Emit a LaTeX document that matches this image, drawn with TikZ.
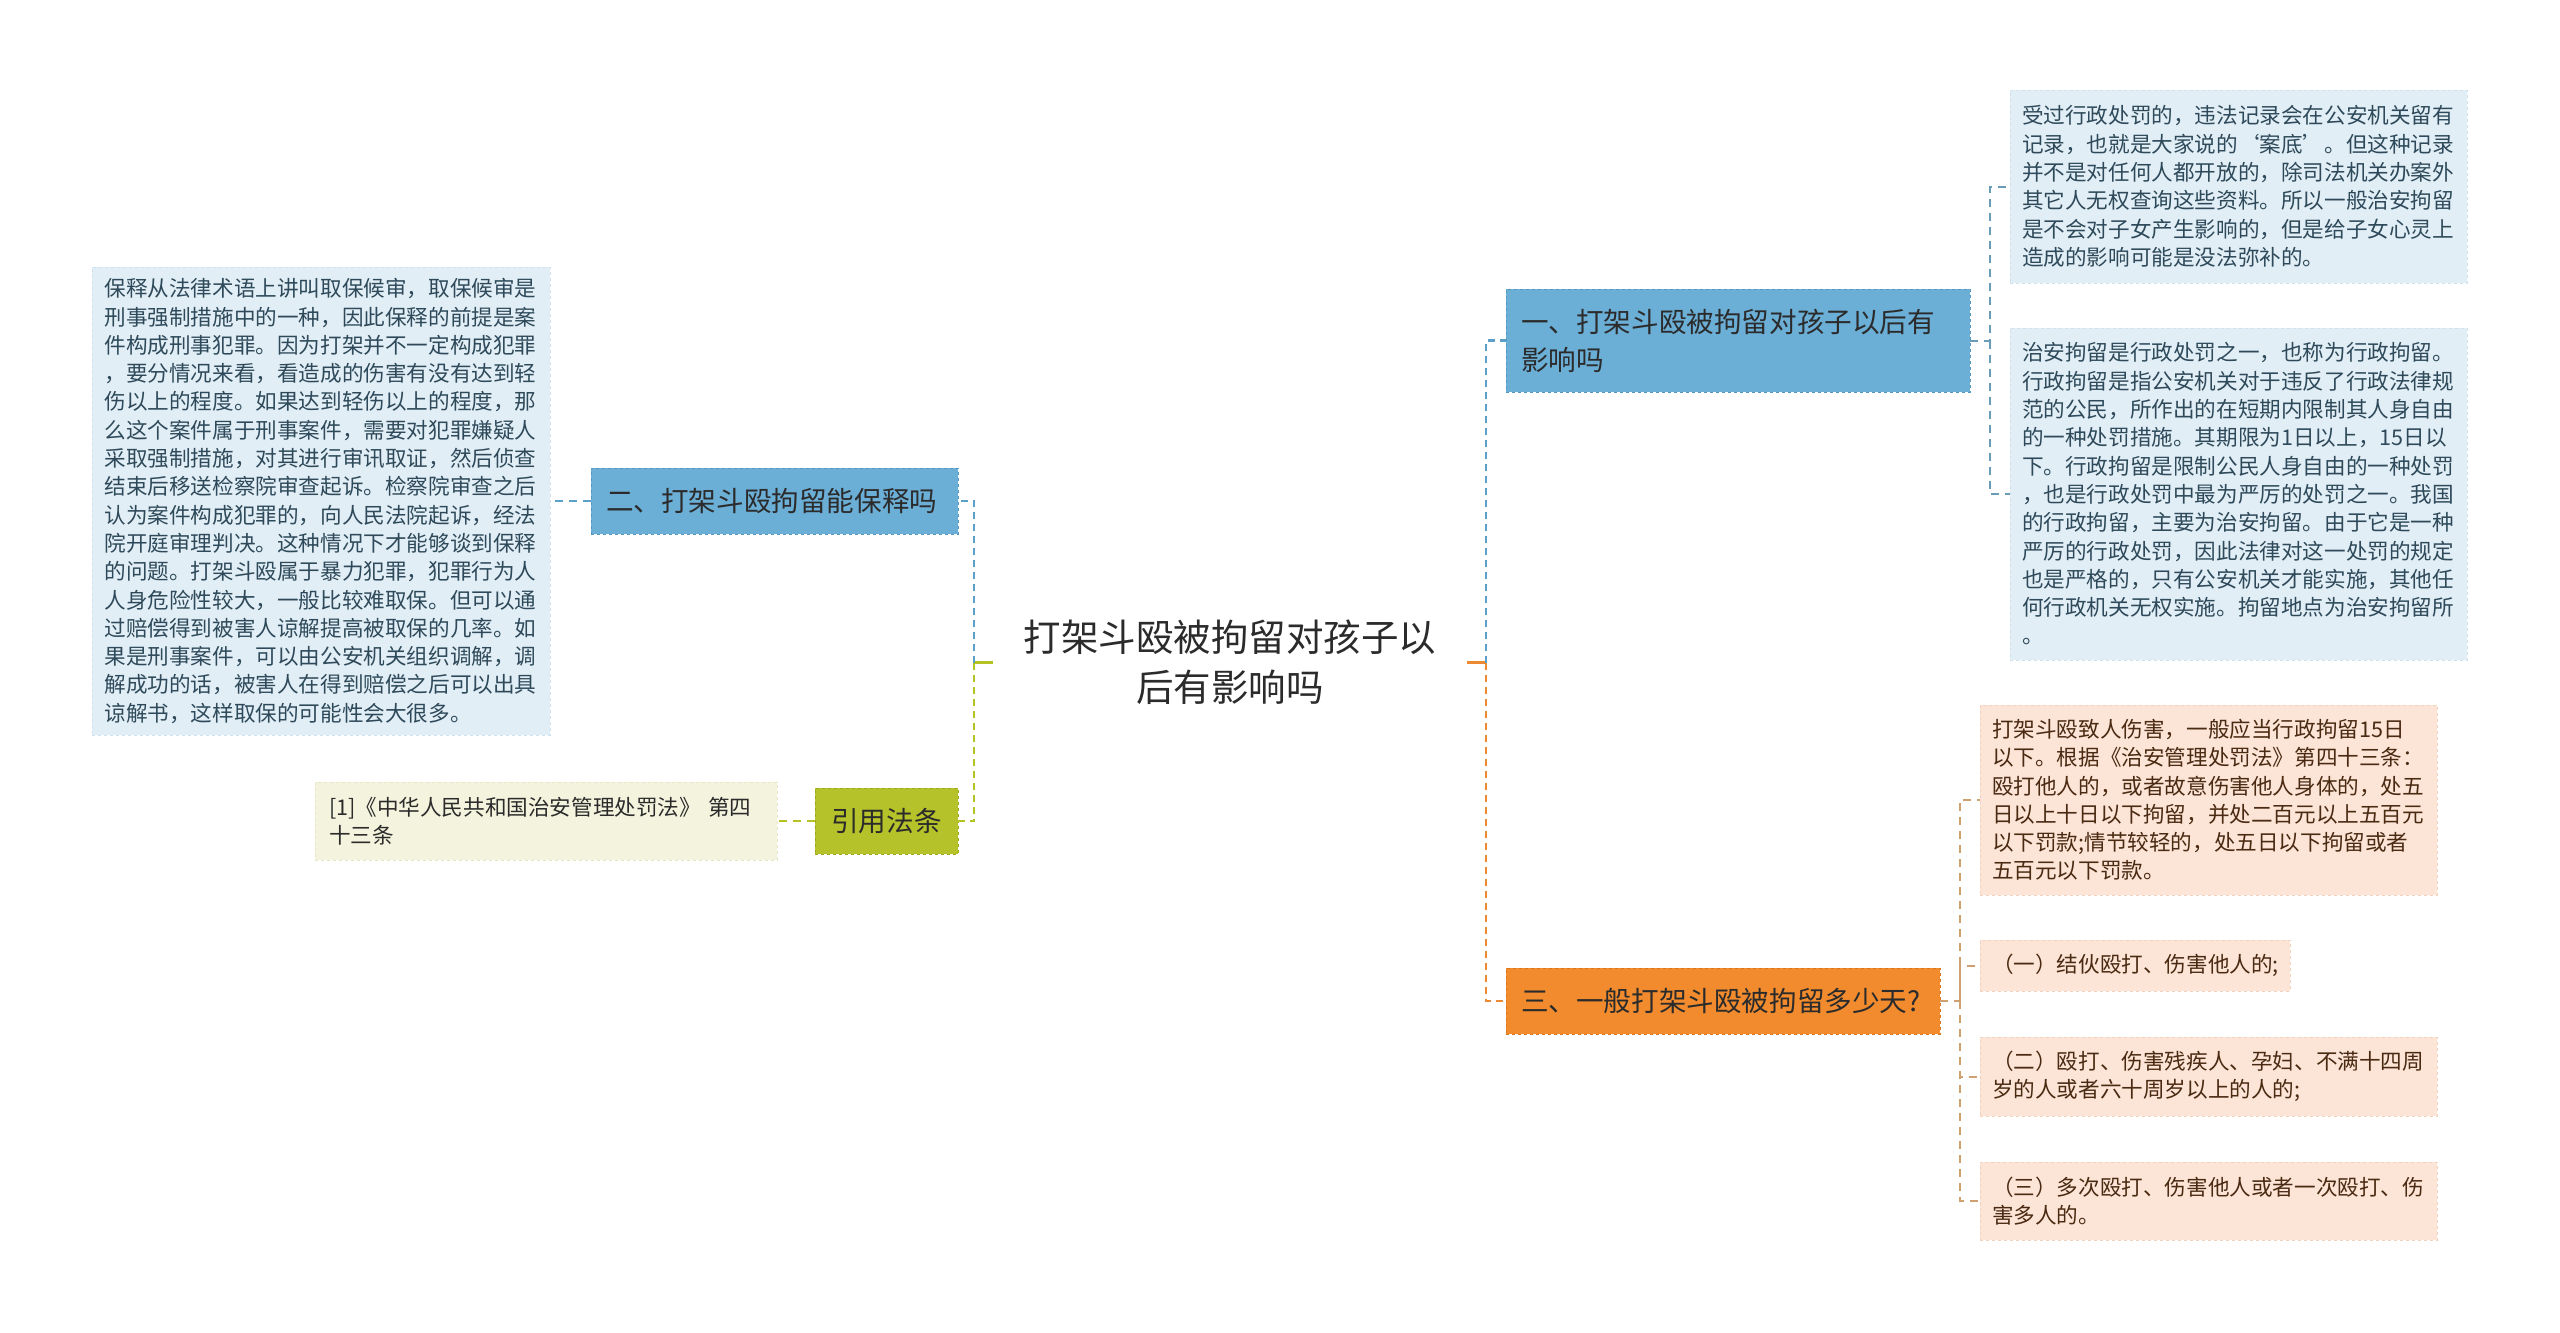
\documentclass[tikz,border=0pt]{standalone}
\usepackage{fontspec}
\setmainfont{Noto Sans CJK SC}
\usetikzlibrary{backgrounds,calc}
\definecolor{cfill}{HTML}{EFEFE7}
\definecolor{bnode}{HTML}{6BAED6}
\definecolor{bnodeb}{HTML}{5597C0}
\definecolor{btext}{HTML}{E2EEF6}
\definecolor{btextb}{HTML}{CFE1EE}
\definecolor{bink}{HTML}{2E4A5A}
\definecolor{onode}{HTML}{F18B2E}
\definecolor{onodeb}{HTML}{D9771E}
\definecolor{otext}{HTML}{FCE5D6}
\definecolor{otextb}{HTML}{F3D2BD}
\definecolor{oink}{HTML}{4A2A12}
\definecolor{gnode}{HTML}{B6C229}
\definecolor{gnodeb}{HTML}{9DA81C}
\definecolor{gtext}{HTML}{F4F4DE}
\definecolor{gtextb}{HTML}{E6E6C6}
\definecolor{ink}{HTML}{2B2B2B}
\definecolor{lblue}{HTML}{5B9FCB}
\definecolor{lbluesub}{HTML}{6A9DB5}
\definecolor{lgreen}{HTML}{B4C224}
\definecolor{lorange}{HTML}{EC8A33}
\definecolor{lorangesub}{HTML}{CFA070}
\begin{document}
\begin{tikzpicture}[x=1pt,y=-1pt,
  base/.style={inner sep=0pt, outer sep=0pt, anchor=center, align=left},
  smalltxt/.style={font=\fontsize{21.6pt}{28.3pt}\selectfont},
  bigtxt/.style={font=\fontsize{27.6pt}{38pt}\selectfont},
  btbox/.style={base, smalltxt, fill=btext, draw=btextb, dashed, text=bink},
  otbox/.style={base, smalltxt, fill=otext, draw=otextb, dashed, text=oink},
  gtbox/.style={base, smalltxt, fill=gtext, draw=gtextb, dashed, text=ink},
  bnodebox/.style={base, bigtxt, fill=bnode, draw=bnodeb, dashed, text=ink},
  onodebox/.style={base, bigtxt, fill=onode, draw=onodeb, dashed, text=ink},
  gnodebox/.style={base, bigtxt, fill=gnode, draw=gnodeb, dashed, text=ink, align=center},
  mainline/.style={line width=2.6pt, dash pattern=on 7pt off 5pt},
  subline/.style={line width=2pt, dash pattern=on 8pt off 6pt},
  solidline/.style={line width=3pt},
]
\useasboundingbox (0,0) rectangle (2560,1333);
\fill[white] (0,0) rectangle (2560,1333);

% centre
\node[base, align=center, minimum width=474pt, minimum height=139pt,
      font=\fontsize{37.5pt}{50pt}\selectfont, text=ink] (c) at (1230,662.5)
  {打架斗殴被拘留对孩子以\\后有影响吗};
\begin{scope}[on background layer]
\fill[cfill] ($(c.north west)+(15,0)$) -- ($(c.north east)+(-15,0)$) -- (c.east)
  -- ($(c.south east)+(-15,0)$) -- ($(c.south west)+(15,0)$) -- (c.west) -- cycle;
\end{scope}

% left side
\node[bnodebox, minimum width=367pt, minimum height=66pt, text width=337pt] (n2) at (774.5,501)
  {二、打架斗殴拘留能保释吗};
\node[btbox, minimum width=458pt, minimum height=468pt, text width=433pt] (L) at (321,501)
  {保释从法律术语上讲叫取保候审，取保候审是\\
   刑事强制措施中的一种，因此保释的前提是案\\
   件构成刑事犯罪。因为打架并不一定构成犯罪\\
   ，要分情况来看，看造成的伤害有没有达到轻\\
   伤以上的程度。如果达到轻伤以上的程度，那\\
   么这个案件属于刑事案件，需要对犯罪嫌疑人\\
   采取强制措施，对其进行审讯取证，然后侦查\\
   结束后移送检察院审查起诉。检察院审查之后\\
   认为案件构成犯罪的，向人民法院起诉，经法\\
   院开庭审理判决。这种情况下才能够谈到保释\\
   的问题。打架斗殴属于暴力犯罪，犯罪行为人\\
   人身危险性较大，一般比较难取保。但可以通\\
   过赔偿得到被害人谅解提高被取保的几率。如\\
   果是刑事案件，可以由公安机关组织调解，调\\
   解成功的话，被害人在得到赔偿之后可以出具\\
   谅解书，这样取保的可能性会大很多。};
\node[gnodebox, minimum width=143pt, minimum height=66pt] (yy) at (886.5,821) {引用法条};
\node[gtbox, minimum width=462pt, minimum height=78pt, text width=434pt] (law) at (546,821)
  {[1]《中华人民共和国治安管理处罚法》 第四\\十三条};

% right side
\node[bnodebox, minimum width=464pt, minimum height=103pt, text width=434pt] (n1) at (1738,340.5)
  {一、打架斗殴被拘留对孩子以后有\\影响吗};
\node[btbox, minimum width=457pt, minimum height=193pt, text width=433pt] (t1) at (2238.5,186.5)
  {受过行政处罚的，违法记录会在公安机关留有\\
   记录，也就是大家说的‘案底’。但这种记录\\
   并不是对任何人都开放的，除司法机关办案外\\
   其它人无权查询这些资料。所以一般治安拘留\\
   是不会对子女产生影响的，但是给子女心灵上\\
   造成的影响可能是没法弥补的。};
\node[btbox, minimum width=457pt, minimum height=332pt, text width=433pt] (t2) at (2238.5,494)
  {治安拘留是行政处罚之一，也称为行政拘留。\\
   行政拘留是指公安机关对于违反了行政法律规\\
   范的公民，所作出的在短期内限制其人身自由\\
   的一种处罚措施。其期限为1日以上，15日以\\
   下。行政拘留是限制公民人身自由的一种处罚\\
   ，也是行政处罚中最为严厉的处罚之一。我国\\
   的行政拘留，主要为治安拘留。由于它是一种\\
   严厉的行政处罚，因此法律对这一处罚的规定\\
   也是严格的，只有公安机关才能实施，其他任\\
   何行政机关无权实施。拘留地点为治安拘留所\\
   。};
\node[onodebox, minimum width=434pt, minimum height=66pt, text width=404pt] (n3) at (1723,1001)
  {三、一般打架斗殴被拘留多少天?};
\node[otbox, minimum width=457pt, minimum height=190pt, text width=433pt] (o1) at (2208.5,800)
  {打架斗殴致人伤害，一般应当行政拘留15日\\
   以下。根据《治安管理处罚法》第四十三条：\\
   殴打他人的，或者故意伤害他人身体的，处五\\
   日以上十日以下拘留，并处二百元以上五百元\\
   以下罚款;情节较轻的，处五日以下拘留或者\\
   五百元以下罚款。};
\node[otbox, minimum width=310pt, minimum height=51pt, text width=286pt] (o2) at (2135,965.5)
  {（一）结伙殴打、伤害他人的;};
\node[otbox, minimum width=457pt, minimum height=79pt, text width=433pt] (o3) at (2208.5,1076.5)
  {（二）殴打、伤害残疾人、孕妇、不满十四周\\岁的人或者六十周岁以上的人的;};
\node[otbox, minimum width=457pt, minimum height=78pt, text width=433pt] (o4) at (2208.5,1201)
  {（三）多次殴打、伤害他人或者一次殴打、伤\\害多人的。};

% junctions
\coordinate (jl) at (974,661);
\coordinate (jr) at (1486,661);
\coordinate (j1) at (1990,340);
\coordinate (j3) at (1960,1001);

% connectors from centre
\draw[solidline, lgreen] (c.west) -- (c.west -| jl);
\draw[mainline, lblue] (c.west -| jl) |- (n2.east);
\draw[mainline, lgreen] (c.west -| jl) |- (yy.east);
\draw[solidline, lorange] (c.east) -- (c.east -| jr);
\draw[mainline, lblue] (c.east -| jr) |- (n1.west);
\draw[mainline, lorange] (c.east -| jr) |- (n3.west);

% sub connectors
\draw[subline, lblue] (n2.west) -- (L.east);
\draw[subline, lgreen] (yy.west) -- (law.east);
\draw[subline, lbluesub] (n1.east) -- (n1.east -| j1) |- (t1.west);
\draw[subline, lbluesub] (n1.east -| j1) |- (t2.west);
\draw[subline, lorangesub] (n3.east) -- (n3.east -| j3) |- (o1.west);
\draw[subline, lorangesub] (n3.east -| j3) |- (o2.west);
\draw[subline, lorangesub] (n3.east -| j3) |- (o3.west);
\draw[subline, lorangesub] (n3.east -| j3) |- (o4.west);
\end{tikzpicture}
\end{document}
